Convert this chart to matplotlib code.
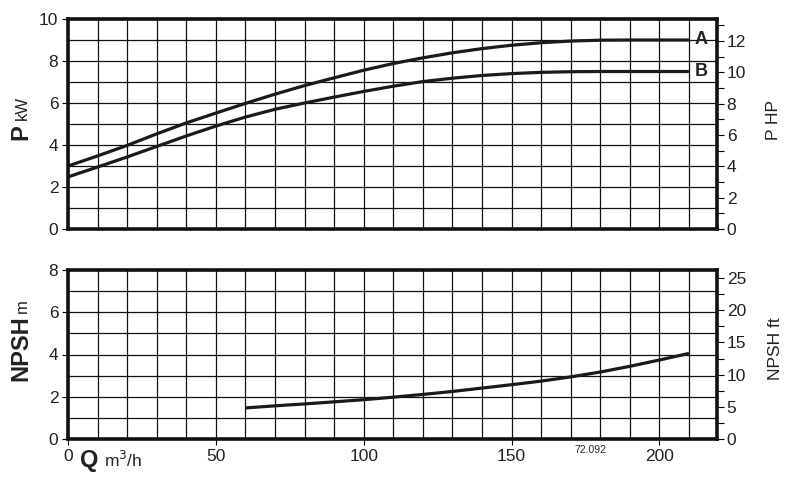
import matplotlib
matplotlib.use("Agg")
import matplotlib.pyplot as plt
import numpy as np

plt.rcParams['font.family'] = ['Liberation Sans', 'DejaVu Sans']

# Data
q_power = [0, 10, 20, 30, 40, 50, 60, 70, 80, 90, 100, 110, 120, 130, 140, 150, 160, 170, 180, 190, 200, 210]
p_a = [3.0, 3.48, 3.98, 4.53, 5.05, 5.52, 5.98, 6.42, 6.83, 7.2, 7.56, 7.88, 8.15, 8.39, 8.59, 8.75, 8.87, 8.95, 8.99, 9.0, 9.0, 9.0]
p_b = [2.48, 2.95, 3.43, 3.93, 4.43, 4.9, 5.33, 5.7, 6.0, 6.28, 6.55, 6.8, 7.02, 7.18, 7.31, 7.4, 7.46, 7.49, 7.5, 7.5, 7.5, 7.5]
q_npsh = [60, 70, 80, 90, 100, 110, 120, 130, 140, 150, 160, 170, 180, 190, 200, 210]
npsh = [1.47, 1.57, 1.66, 1.76, 1.86, 1.98, 2.11, 2.25, 2.41, 2.57, 2.74, 2.94, 3.17, 3.44, 3.74, 4.05]
x_ticks = [0, 50, 100, 150, 200]
curve_labels = ['A', 'B']

KW_TO_HP = 1.341
M_TO_FT = 3.2808
W, H = 793, 478
fig = plt.figure(figsize=(W / 100, H / 100), dpi=100)

def px_rect(l, t, r, b):
    return [l / W, 1 - b / H, (r - l) / W, (b - t) / H]

tc = '#222222'
lc = '#1a1a1a'
fs = 12.5

def style(ax, ymax):
    ax.set_xlim(0, 219.5)
    ax.set_ylim(0, ymax)
    ax.set_xticks(np.arange(0, 220, 10), minor=True)
    ax.set_yticks(np.arange(0, ymax + 0.1, 1), minor=True)
    ax.grid(which='minor', color='#111111', linewidth=0.9)
    ax.grid(which='major', color='#111111', linewidth=0.9)
    for s in ax.spines.values():
        s.set_linewidth(2.6)
        s.set_color('#111111')
    ax.tick_params(which='minor', length=0)
    ax.tick_params(which='major', length=4, width=0.8, labelsize=fs, labelcolor=tc, pad=3)

ax1 = fig.add_axes(px_rect(68, 19, 717, 229))
style(ax1, 10)
ax1.set_yticks([0, 2, 4, 6, 8, 10])
ax1.set_xticks(x_ticks)
ax1.set_xticklabels([])
ax1.tick_params(axis='x', length=0)
ax1.plot(q_power, p_a, color=lc, linewidth=2.3, solid_capstyle='butt', solid_joinstyle='round')
ax1.plot(q_power, p_b, color=lc, linewidth=2.3, solid_capstyle='butt', solid_joinstyle='round')
ax1.text(q_power[-1] + 2, p_a[-1], curve_labels[0], fontsize=13, fontweight='bold', color=tc, va='center', ha='left')
ax1.text(q_power[-1] + 2, p_b[-1], curve_labels[1], fontsize=13, fontweight='bold', color=tc, va='center', ha='left')

ax1r = ax1.twinx()
ax1r.set_ylim(0, 10 * KW_TO_HP)
ax1r.set_yticks([0, 2, 4, 6, 8, 10, 12])
ax1r.set_yticks(np.arange(1, 13.5, 2), minor=True)
ax1r.tick_params(which='both', length=5, width=0.8, labelsize=fs, labelcolor=tc, pad=2)
for s in ax1r.spines.values():
    s.set_visible(False)

ax2 = fig.add_axes(px_rect(68, 270, 717, 439))
style(ax2, 8)
ax2.set_yticks([0, 2, 4, 6, 8])
ax2.set_xticks(x_ticks)
ax2.plot(q_npsh, npsh, color=lc, linewidth=2.3, solid_capstyle='butt', solid_joinstyle='round')

ax2r = ax2.twinx()
ax2r.set_ylim(0, 8 * M_TO_FT)
ax2r.set_yticks([0, 5, 10, 15, 20, 25])
ax2r.set_yticks(np.arange(2.5, 26, 5), minor=True)
ax2r.tick_params(which='both', length=5, width=0.8, labelsize=fs, labelcolor=tc, pad=2)
for s in ax2r.spines.values():
    s.set_visible(False)

def ft(x, y, s, **kw):
    fig.text(x / W, 1 - y / H, s, color=tc, **kw)

# left labels (rotated)
ft(27, 140, 'P', fontsize=17, fontweight='bold', rotation=90, rotation_mode='anchor', ha='left', va='baseline')
ft(27, 120, 'kW', fontsize=12, rotation=90, rotation_mode='anchor', ha='left', va='baseline')
ft(27, 381, 'NPSH', fontsize=17, fontweight='bold', rotation=90, rotation_mode='anchor', ha='left', va='baseline')
ft(27, 313, 'm', fontsize=12, rotation=90, rotation_mode='anchor', ha='left', va='baseline')
# right labels
ft(774, 120, 'P HP', fontsize=12.5, rotation=90, ha='center', va='center')
ft(775, 349, 'NPSH ft', fontsize=12.5, rotation=90, ha='center', va='center')
# x label
ft(80, 467, 'Q', fontsize=17, fontweight='bold', ha='left', va='baseline')
ft(104, 467, 'm$^3$/h', fontsize=12.5, ha='left', va='baseline')
ft(590, 453, '72.092', fontsize=7.5, ha='center', va='baseline')

fig.savefig('out.png', dpi=100)
